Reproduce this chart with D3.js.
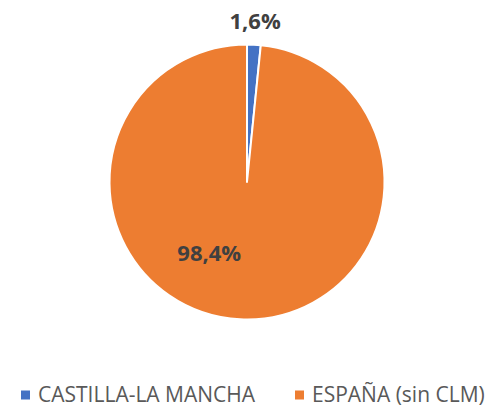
<!DOCTYPE html>
<html>
<head>
<meta charset="utf-8">
<script src="https://cdn.jsdelivr.net/npm/d3@7"></script>
<style>
  body { margin: 0; background: #fff; }
  svg { display: block; }
</style>
</head>
<body>
<div id="chart"></div>
<script>
var categories = ["CASTILLA-LA MANCHA", "ESPAÑA (sin CLM)"];
var values = [1.6, 98.4];
var valueLabels = ["1,6%", "98,4%"];
var colors = ["#4472C4", "#ED7D31"];

var width = 487, height = 408;
var cx = 247, cy = 182, radius = 137.5;

var svg = d3.select("#chart").append("svg")
    .attr("width", width)
    .attr("height", height);

var data = categories.map(function(c, i) {
    return { name: c, value: values[i], label: valueLabels[i], color: colors[i] };
});

var pie = d3.pie().sort(null).value(function(d) { return d.value; });
var arcs = pie(data);

var arc = d3.arc().innerRadius(0).outerRadius(radius);

var g = svg.append("g").attr("transform", "translate(" + cx + "," + cy + ")");

g.selectAll("path")
    .data(arcs)
  .enter().append("path")
    .attr("d", arc)
    .attr("fill", function(d) { return d.data.color; })
    .attr("stroke", "#fff")
    .attr("stroke-width", 2)
    .attr("stroke-linejoin", "round");

// label placement: small slice outside, big slice inside (Excel best fit)
var labelRadius = [161, 81];
var labelShift = [0, 0.435]; // radians added to mid angle
g.selectAll("text.lbl")
    .data(arcs)
  .enter().append("text")
    .attr("class", "lbl")
    .attr("transform", function(d, i) {
        var a = (d.startAngle + d.endAngle) / 2 + labelShift[i];
        var p = d3.pointRadial(a, labelRadius[i]);
        return "translate(" + p[0] + "," + p[1] + ")";
    })
    .attr("text-anchor", "middle")
    .attr("dy", "0.35em")
    .style("font-family", "'Open Sans', sans-serif")
    .style("font-weight", "bold")
    .style("font-size", "22px")
    .style("fill", "#404040")
    .text(function(d) { return d.data.label; });

// legend
var legendX = [21, 295];
var legend = svg.selectAll("g.legend")
    .data(data)
  .enter().append("g")
    .attr("class", "legend")
    .attr("transform", function(d, i) { return "translate(" + legendX[i] + ",395)"; });

legend.append("rect")
    .attr("x", 0).attr("y", -4.5)
    .attr("width", 9).attr("height", 9)
    .attr("fill", function(d) { return d.color; });

legend.append("text")
    .attr("x", 17)
    .attr("y", 7)
    .style("font-family", "'Open Sans', sans-serif")
    .style("font-size", "21px")
    .style("fill", "#595959")
    .text(function(d) { return d.name; });
</script>
</body>
</html>
